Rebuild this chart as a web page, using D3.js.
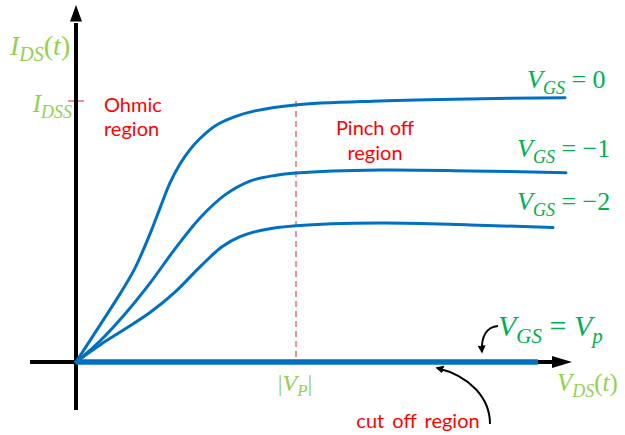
<!DOCTYPE html>
<html>
<head>
<meta charset="utf-8">
<script src="https://cdn.jsdelivr.net/npm/d3@7/dist/d3.min.js"></script>
<style>
  html, body { margin: 0; padding: 0; background: #fff; }
  svg { display: block; }
  .math { font-family: "Liberation Serif", "DejaVu Serif", serif; }
  .note { font-family: Lato, "Open Sans", sans-serif; fill: #ff0000; font-size: 20px; }
</style>
</head>
<body>
<svg id="chart" width="625" height="435"></svg>
<script>
// JFET output characteristics: drain current vs drain-source voltage
const vdsTop = [0, 0.48, 0.88, 1.18, 1.48, 1.68, 1.88, 2.08, 2.28, 2.48, 2.78, 3.18, 3.58, 4.38, 6.08, 7.88, 9.78];
const idsTop = [0, 1.23, 2.27, 3.13, 4.27, 5.13, 5.97, 6.6, 7.08, 7.45, 7.87, 8.18, 8.37, 8.57, 8.7, 8.77, 8.81];

const vdsMid = [0, 0.48, 0.98, 1.48, 1.98, 2.48, 2.98, 3.48, 3.98, 4.4, 6.08, 7.88, 9.8];
const idsMid = [0, 0.7, 1.6, 2.63, 3.77, 4.8, 5.57, 6.03, 6.22, 6.3, 6.4, 6.37, 6.31];

const vdsLow = [0, 0.48, 0.98, 1.48, 1.98, 2.48, 2.92, 3.28, 3.74, 4.4, 6.08, 7.88, 9.54];
const idsLow = [0, 0.57, 1.1, 1.65, 2.33, 3.17, 3.84, 4.18, 4.4, 4.54, 4.63, 4.57, 4.48];

// cut-off: zero current along the VDS axis
const vdsCut = [0, 9.24];
const idsCut = [0, 0];

const seriesLabels = ["0", "\u22121", "\u22122"];
const vp = 4.4;      // |V_P|
const idss = 8.7;    // I_DSS

const svg = d3.select("#chart");

const x = d3.scaleLinear().domain([0, 10]).range([76, 576]);
const y = d3.scaleLinear().domain([0, 10]).range([362, 62]);

const blue = "#0070c0";
const green = "#00b050";
const lightGreen = "#92d050";
const dashRed = "#f26d6d";

const defs = svg.append("defs");
defs.append("marker")
  .attr("id", "tip")
  .attr("viewBox", "0 0 10 10")
  .attr("refX", 8).attr("refY", 5)
  .attr("markerWidth", 4).attr("markerHeight", 4)
  .attr("markerUnits", "strokeWidth")
  .attr("orient", "auto")
  .append("path").attr("d", "M0,0 L10,5 L0,10 z").attr("fill", "#000");

// axes
svg.append("line")
  .attr("x1", x(0)).attr("x2", x(0))
  .attr("y1", y(-1.6)).attr("y2", y(11.3))
  .attr("stroke", "#000").attr("stroke-width", 4);
svg.append("path")
  .attr("d", `M${x(0) - 6},${y(11.35)} L${x(0) + 6},${y(11.35)} L${x(0)},${y(11.9)} Z`)
  .attr("fill", "#000");

svg.append("line")
  .attr("x1", x(-0.92)).attr("x2", x(9.56))
  .attr("y1", y(0)).attr("y2", y(0))
  .attr("stroke", "#000").attr("stroke-width", 4);
svg.append("path")
  .attr("d", `M${x(9.52)},${y(0) - 6} L${x(9.52)},${y(0) + 6} L${x(9.92)},${y(0)} Z`)
  .attr("fill", "#000");

// pinch-off boundary and I_DSS mark
svg.append("line")
  .attr("x1", x(vp)).attr("x2", x(vp))
  .attr("y1", y(idss)).attr("y2", y(0))
  .attr("stroke", dashRed).attr("stroke-width", 1.5)
  .attr("stroke-dasharray", "6,4");
svg.append("line")
  .attr("x1", x(-0.16)).attr("x2", x(0.24))
  .attr("y1", y(idss)).attr("y2", y(idss))
  .attr("stroke", dashRed).attr("stroke-width", 1.5)
  .attr("stroke-dasharray", "6,4");

// curves
const line = d3.line()
  .x(d => x(d[0])).y(d => y(d[1]))
  .curve(d3.curveCatmullRom.alpha(0.5));

const series = [
  [vdsTop, idsTop],
  [vdsMid, idsMid],
  [vdsLow, idsLow]
];
series.forEach(([xs, ys]) => {
  svg.append("path")
    .datum(xs.map((v, i) => [v, ys[i]]))
    .attr("d", line)
    .attr("fill", "none")
    .attr("stroke", blue)
    .attr("stroke-width", 3)
    .attr("stroke-linecap", "round");
});

svg.append("path")
  .datum(vdsCut.map((v, i) => [v, idsCut[i]]))
  .attr("d", d3.line().x(d => x(d[0])).y(d => y(d[1])))
  .attr("stroke", blue)
  .attr("stroke-width", 5.5);

// math labels
function mathLabel(px, py, parts, size, color, anchor) {
  const t = svg.append("text")
    .attr("class", "math")
    .attr("x", px).attr("y", py)
    .attr("font-size", size)
    .attr("fill", color)
    .attr("text-anchor", anchor || "start");
  parts.forEach(p => {
    const s = t.append("tspan").text(p.t);
    if (p.i) s.attr("font-style", "italic");
    if (p.sub) s.attr("font-size", Math.round(size * 0.7)).attr("dy", size * 0.22);
    if (p.up) s.attr("dy", -size * 0.22);
  });
  return t;
}

// axis titles
mathLabel(10, 55, [{t: "I", i: 1}, {t: "DS", i: 1, sub: 1}, {t: "(", up: 1}, {t: "t", i: 1}, {t: ")"}], 28, lightGreen);
mathLabel(557, 391, [{t: "V", i: 1}, {t: "DS", i: 1, sub: 1}, {t: "(", up: 1}, {t: "t", i: 1}, {t: ")"}], 25, lightGreen);

// tick labels
mathLabel(72, y(idss) + 11, [{t: "I", i: 1}, {t: "DSS", i: 1, sub: 1}], 25, lightGreen, "end");
mathLabel(x(vp) - 1, 391, [{t: "|"}, {t: "V", i: 1}, {t: "P", i: 1, sub: 1}, {t: "|", up: 1}], 24, lightGreen, "middle");

// curve labels
const labelPos = [[527, 88], [517, 157], [517, 210]];
seriesLabels.forEach((lab, i) => {
  mathLabel(labelPos[i][0], labelPos[i][1],
    [{t: "V", i: 1}, {t: "GS", i: 1, sub: 1}, {t: " = " + lab, up: 1}], 26, green);
});
mathLabel(498, 336, [{t: "V", i: 1}, {t: "GS", i: 1, sub: 1}, {t: " = ", up: 1}, {t: "V", i: 1}, {t: "p", i: 1, sub: 1}], 30, green);

// region notes
svg.append("text").attr("class", "note").attr("x", 104).attr("y", 112).text("Ohmic");
svg.append("text").attr("class", "note").attr("x", 104).attr("y", 136).text("region");
svg.append("text").attr("class", "note").attr("x", 375).attr("y", 135).attr("text-anchor", "middle").text("Pinch off");
svg.append("text").attr("class", "note").attr("x", 375).attr("y", 160).attr("text-anchor", "middle").text("region");
svg.append("text").attr("class", "note").attr("x", 418).attr("y", 428).attr("text-anchor", "middle")
  .attr("font-size", 21).attr("word-spacing", 3).text("cut off region");

// pointer arrows
svg.append("path")
  .attr("d", "M498,326 C487,327 481,336 482,352")
  .attr("fill", "none").attr("stroke", "#000").attr("stroke-width", 2)
  .attr("marker-end", "url(#tip)");
svg.append("path")
  .attr("d", "M490,424 C490,398 470,376 437,368")
  .attr("fill", "none").attr("stroke", "#000").attr("stroke-width", 2)
  .attr("marker-end", "url(#tip)");
</script>
</body>
</html>
